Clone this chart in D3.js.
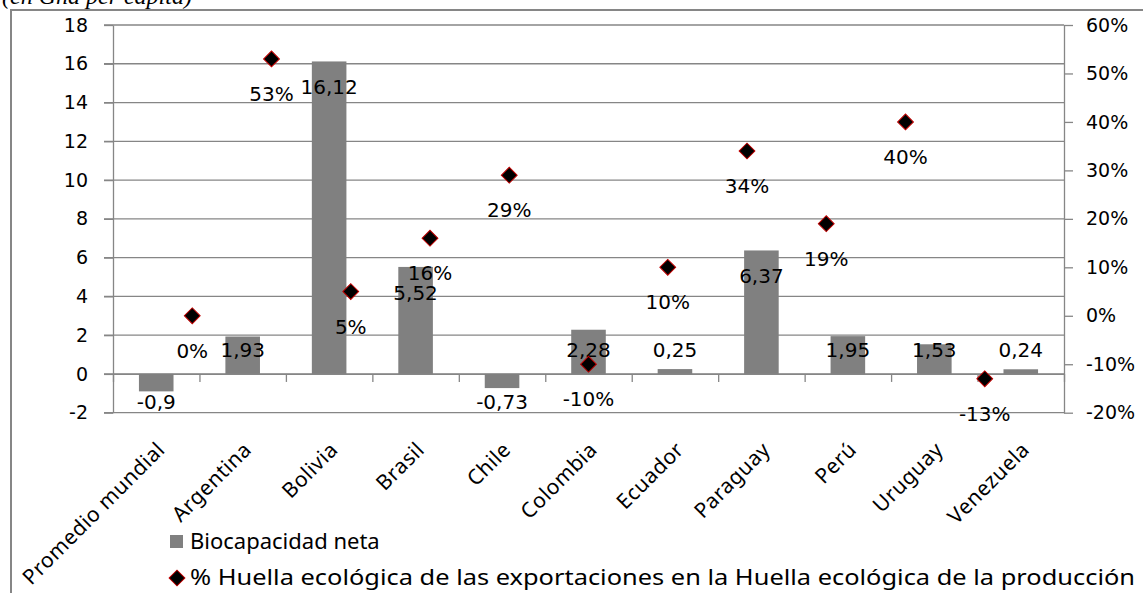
<!DOCTYPE html>
<html>
<head>
<meta charset="utf-8">
<script src="https://cdn.jsdelivr.net/npm/d3@7"></script>
<style>
  body { margin: 0; background: #fff; }
  svg { display: block; }
  .tick text { fill: #000; }
</style>
</head>
<body>
<svg id="chart"></svg>
<script>
let w = 1143;
let h = 593;

let title = "(en Gha per capita)";
let countries = ["Promedio mundial", "Argentina", "Bolivia", "Brasil", "Chile", "Colombia",
  "Ecuador", "Paraguay", "Perú", "Uruguay", "Venezuela"];
let biocapacity = [-0.9, 1.93, 16.12, 5.52, -0.73, 2.28, 0.25, 6.37, 1.95, 1.53, 0.24];
let exportShare = [0, 53, 5, 16, 29, -10, 10, 34, 19, 40, -13];
let leftTicks = [-2, 0, 2, 4, 6, 8, 10, 12, 14, 16, 18];
let rightTicks = [-20, -10, 0, 10, 20, 30, 40, 50, 60];
let legendLabels = ["Biocapacidad neta",
  "% Huella ecológica de las exportaciones en la Huella ecológica de la producción"];

let gridColor = "#868686";
let barColor = "#808080";
let numFont = "'DejaVu Sans', Verdana, sans-serif";
let textFont = "'Noto Sans', 'Open Sans', sans-serif";

// plot area
let plotLeft = 113, plotRight = 1064, plotTop = 25, plotBottom = 412.7;

let svg = d3.select("#chart")
  .attr("width", w)
  .attr("height", h);

let yScale = d3.scaleLinear().domain([-2, 18]).range([plotBottom, plotTop]);
let yRight = d3.scaleLinear().domain([-20, 60]).range([plotBottom, plotTop]);
let xScale = d3.scaleBand().domain(countries).range([plotLeft, plotRight]).paddingInner(0.6).paddingOuter(0.3);
// scatter series sits on its own 0..12 axis
let xPoints = d3.scaleLinear().domain([0, countries.length + 1]).range([plotLeft, plotRight]);
let xBounds = d3.scaleLinear().domain([0, countries.length]).range([plotLeft, plotRight]);

let comma = (v) => String(v).replace(".", ",");

// outer frame
svg.append("rect")
  .attr("x", 11)
  .attr("y", 10)
  .attr("width", w)
  .attr("height", h)
  .attr("fill", "none")
  .attr("stroke", gridColor)
  .attr("stroke-width", 2);

svg.append("text")
  .attr("x", 2)
  .attr("y", 4)
  .attr("font-family", "'Liberation Serif', 'Times New Roman', serif")
  .attr("font-style", "italic")
  .attr("font-size", 24)
  .text(title);

// gridlines
svg.append("g")
  .selectAll("line")
  .data(leftTicks)
  .enter()
  .append("line")
  .attr("x1", plotLeft - 9)
  .attr("x2", plotRight)
  .attr("y1", (d) => yScale(d))
  .attr("y2", (d) => yScale(d))
  .attr("stroke", gridColor)
  .attr("stroke-width", 1.3);

let yAxis = d3.axisLeft(yScale).tickValues(leftTicks).tickSize(9).tickSizeOuter(0).tickPadding(16)
  .tickFormat((d) => String(d));
let yAxisRight = d3.axisRight(yRight).tickValues(rightTicks).tickSize(9).tickSizeOuter(0).tickPadding(13)
  .tickFormat((d) => d + "%");
let xAxis = d3.axisBottom(xBounds).tickValues(d3.range(countries.length + 1)).tickSize(8).tickSizeOuter(0)
  .tickFormat("");

svg.append("g")
  .attr("id", "y-axis")
  .attr("transform", "translate(" + plotLeft + ",0)")
  .call(yAxis);
svg.append("g")
  .attr("id", "y-axis-right")
  .attr("transform", "translate(" + plotRight + ",0)")
  .call(yAxisRight);
svg.append("g")
  .attr("id", "x-axis")
  .attr("transform", "translate(0," + yScale(0) + ")")
  .call(xAxis);

svg.selectAll(".domain, .tick line")
  .attr("stroke", gridColor)
  .attr("stroke-width", 1.3);
svg.selectAll("#y-axis text, #y-axis-right text")
  .attr("font-family", numFont)
  .attr("font-size", 19);

// bars
svg.append("g")
  .selectAll("rect")
  .data(biocapacity)
  .enter()
  .append("rect")
  .attr("x", (d, i) => xScale(countries[i]))
  .attr("y", (d) => yScale(Math.max(0, d)))
  .attr("width", xScale.bandwidth())
  .attr("height", (d) => Math.abs(yScale(d) - yScale(0)))
  .attr("fill", barColor);

// bar labels
svg.append("g")
  .selectAll("text")
  .data(biocapacity)
  .enter()
  .append("text")
  .attr("x", (d, i) => xScale(countries[i]) + xScale.bandwidth() / 2)
  .attr("y", (d) => d < 0 ? yScale(0) + 28 : Math.min(yScale(d), yScale(2.6)) + 26)
  .attr("dy", "0.35em")
  .attr("text-anchor", "middle")
  .attr("font-family", numFont)
  .attr("font-size", 20)
  .text((d) => comma(d));

// diamonds
let diamond = d3.symbol().type(d3.symbolSquare).size(125);
svg.append("g")
  .selectAll("path")
  .data(exportShare)
  .enter()
  .append("path")
  .attr("d", diamond)
  .attr("transform", (d, i) => "translate(" + xPoints(i + 1) + "," + yRight(d) + ") rotate(45)")
  .attr("fill", "#000")
  .attr("stroke", "#c00000")
  .attr("stroke-width", 1);

svg.append("g")
  .selectAll("text")
  .data(exportShare)
  .enter()
  .append("text")
  .attr("x", (d, i) => xPoints(i + 1))
  .attr("y", (d) => yRight(d) + 35)
  .attr("dy", "0.35em")
  .attr("text-anchor", "middle")
  .attr("font-family", numFont)
  .attr("font-size", 20)
  .text((d) => d + "%");

// category labels
svg.append("g")
  .selectAll("text")
  .data(countries)
  .enter()
  .append("text")
  .attr("transform", (d) => "translate(" + (xScale(d) + xScale.bandwidth() / 2 + 10) + ",451) rotate(-45)")
  .attr("text-anchor", "end")
  .attr("font-family", textFont)
  .attr("font-size", 21)
  .attr("letter-spacing", 0.5)
  .text((d) => d);

// legend
let legend = svg.append("g").attr("font-family", textFont).attr("font-size", 22);
legend.append("rect")
  .attr("x", 170)
  .attr("y", 535)
  .attr("width", 13)
  .attr("height", 13)
  .attr("fill", barColor);
legend.append("text")
  .attr("x", 190)
  .attr("y", 549)
  .text(legendLabels[0]);
legend.append("path")
  .attr("d", diamond)
  .attr("transform", "translate(177,578) rotate(45)")
  .attr("fill", "#000")
  .attr("stroke", "#c00000");
legend.append("text")
  .attr("x", 190)
  .attr("y", 585)
  .attr("textLength", 945)
  .attr("lengthAdjust", "spacingAndGlyphs")
  .text(legendLabels[1]);
</script>
</body>
</html>
